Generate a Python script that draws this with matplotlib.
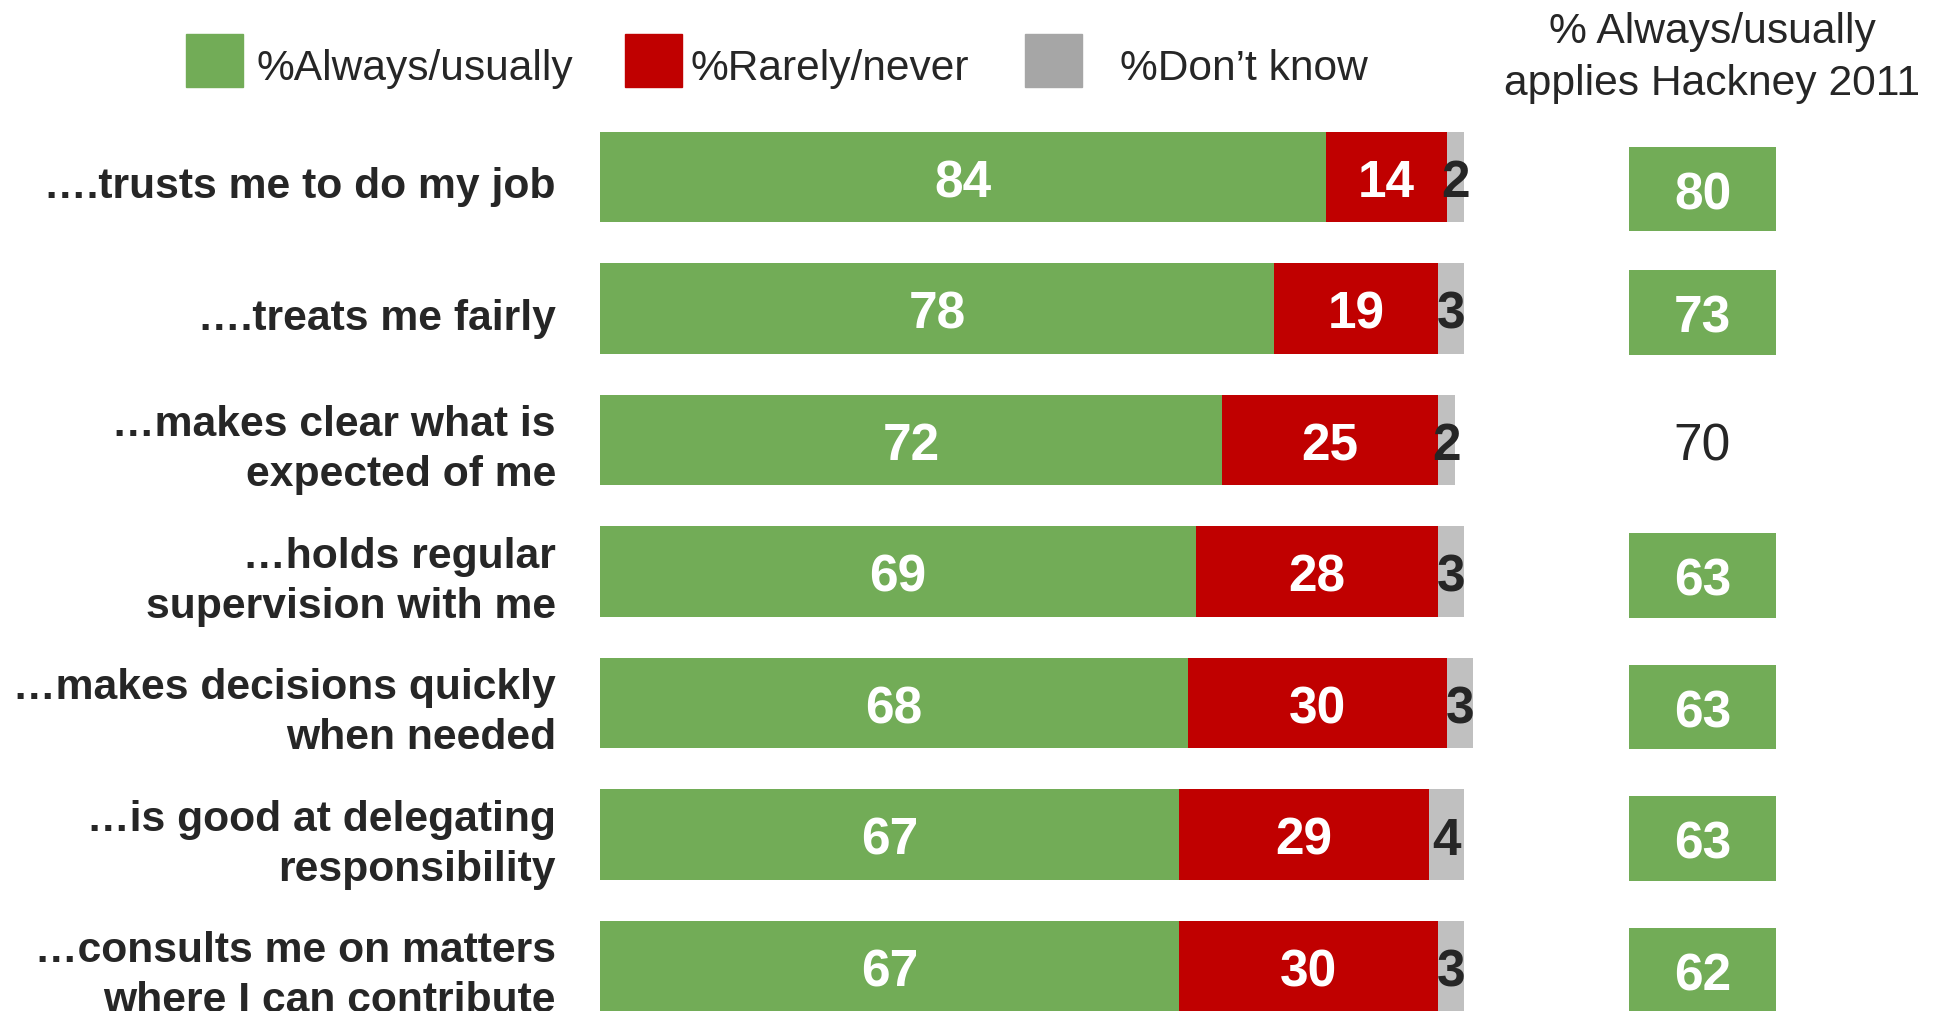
import matplotlib
matplotlib.use("Agg")
import matplotlib.pyplot as plt
from matplotlib.patches import Rectangle

plt.rcParams["font.family"] = ["Liberation Sans", "DejaVu Sans"]

# Survey results: "My manager ..."
statements = [
    "….trusts me to do my job",
    "….treats me fairly",
    "…makes clear what is\nexpected of me",
    "…holds regular\nsupervision with me",
    "…makes decisions quickly\nwhen needed",
    "…is good at delegating\nresponsibility",
    "…consults me on matters\nwhere I can contribute",
]
always_usually = [84, 78, 72, 69, 68, 67, 67]
rarely_never = [14, 19, 25, 28, 30, 29, 30]
dont_know = [2, 3, 2, 3, 3, 4, 3]

# Comparison column: % always/usually, Hackney 2011
hackney_2011 = [80, 73, 70, 63, 63, 63, 62]
hackney_boxed = [True, True, False, True, True, True, True]

GREEN = "#72AC57"
RED = "#C00000"
GREY_BAR = "#C0C0C0"
GREY_KEY = "#A6A6A6"
DARK = "#262626"

fig = plt.figure(figsize=(19.36, 10.12), dpi=100)
ax = fig.add_axes([0, 0, 1, 1])
# x: percent, bars start 600px in and 100% spans 864px
px_per_unit = 8.64
ax.set_xlim(-600 / px_per_unit, (1936 - 600) / px_per_unit)
# y: row index, first row centred 178px from the top, rows 131.5px apart
ax.set_ylim((1012 - 178) / 131.5, -178 / 131.5)
ax.axis("off")

rows = range(len(statements))
bar_h = 0.685
txt_dy = 0.045  # nudge numbers down so digits sit in the middle of the bar

ax.barh(rows, always_usually, height=bar_h, color=GREEN)
ax.barh(rows, rarely_never, left=always_usually, height=bar_h, color=RED)
lefts3 = [a + r for a, r in zip(always_usually, rarely_never)]
ax.barh(rows, dont_know, left=lefts3, height=bar_h, color=GREY_BAR)

for i in rows:
    a, r, d = always_usually[i], rarely_never[i], dont_know[i]
    ax.text(a / 2, i + txt_dy, str(a), ha="center", va="center",
            color="white", fontsize=37, fontweight="bold")
    ax.text(a + r / 2, i + txt_dy, str(r), ha="center", va="center",
            color="white", fontsize=37, fontweight="bold")
    ax.text(a + r + d / 2, i + txt_dy, str(d), ha="center", va="center",
            color=DARK, fontsize=37, fontweight="bold")
    ax.text(-5.1, i + 0.07, statements[i], ha="right", va="center",
            color=DARK, fontsize=30.7, fontweight="bold", linespacing=1.33)

# Hackney 2011 column
box_left = (1629 - 600) / px_per_unit
box_w = 147 / px_per_unit
box_dy = [0.09, 0.03, 0.03, 0.03, 0.03, 0.03, 0.03]
for i in rows:
    y = i + box_dy[i]
    if hackney_boxed[i]:
        ax.barh(y, box_w, left=box_left, height=0.64, color=GREEN)
        ax.text(box_left + box_w / 2, y + txt_dy, str(hackney_2011[i]),
                ha="center", va="center", color="white", fontsize=37,
                fontweight="bold")
    else:
        ax.text(box_left + box_w / 2, y + txt_dy - 0.03, str(hackney_2011[i]),
                ha="center", va="center", color=DARK, fontsize=37)

fig.text(1712 / 1936, 1 - 58 / 1012, "% Always/usually\napplies Hackney 2011",
         ha="center", va="center", fontsize=30.7, color=DARK, linespacing=1.38)

# Legend keys
keys = [
    (186, GREEN, 256, "%Always/usually"),
    (625, RED, 690, "%Rarely/never"),
    (1025, GREY_KEY, 1120, "%Don’t know"),
]
W, H = 1936, 1012
for x0, col, tx, label in keys:
    fig.patches.append(Rectangle((x0 / W, 1 - 88 / H), 57 / W, 53 / H,
                                 transform=fig.transFigure, color=col))
    fig.text(tx / W, 1 - 69 / H, label, ha="left", va="center",
             fontsize=30.6, color=DARK)

fig.savefig("out.png", dpi=100)
